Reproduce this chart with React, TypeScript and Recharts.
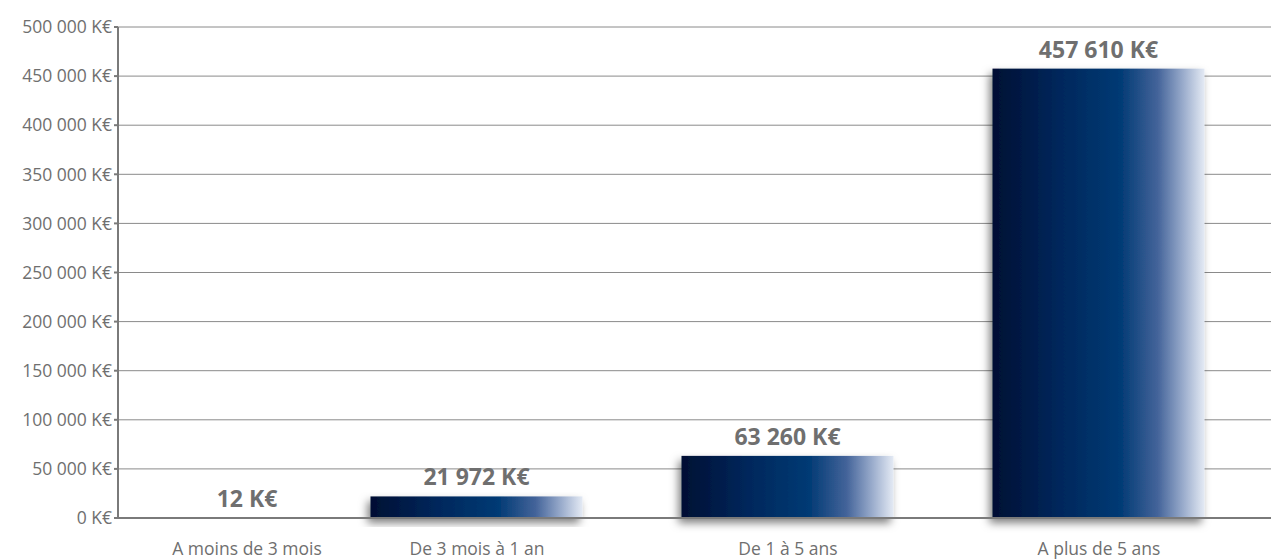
import React from 'react';
import { BarChart, Bar, XAxis, YAxis, CartesianGrid, LabelList } from 'recharts';

// Maturity buckets and outstanding amounts (K€)
const categories = ['A moins de 3 mois', 'De 3 mois à 1 an', 'De 1 à 5 ans', 'A plus de 5 ans'];
const amounts = [12, 21972, 63260, 457610];
const yTicks = [0, 50000, 100000, 150000, 200000, 250000, 300000, 350000, 400000, 450000, 500000];

const data = categories.map((name, i) => ({ idx: i, name, value: amounts[i] }));

const WIDTH = 1271;
const HEIGHT = 560;
const PLOT_LEFT = 118;
const FONT = '"Open Sans", "Noto Sans", sans-serif';
const TEXT_GREY = '#6f6f6f';
const AXIS_GREY = '#7a7a7a';

// keep centred labels clear of the value axis
const LABEL_MIN_X = PLOT_LEFT + 129;

const fmt = (v: number) => String(v).replace(/\B(?=(\d{3})+(?!\d))/g, ' ') + ' K€';

const CategoryTick = (props: any) => {
  const { x, y, payload } = props;
  const cx = Math.max(x, LABEL_MIN_X);
  return (
    <text x={cx} y={y + 37} textAnchor="middle" fill={TEXT_GREY} fontFamily={FONT} fontSize={17.5}>
      {categories[payload.value]}
    </text>
  );
};

const ValueLabel = (props: any) => {
  const { x, y, width, value } = props;
  const cx = Math.max(x + width / 2, LABEL_MIN_X);
  return (
    <text x={cx} y={y - 11} textAnchor="middle" fill={TEXT_GREY} fontFamily={FONT} fontSize={23} fontWeight={700}>
      {fmt(value)}
    </text>
  );
};

const ShadedBar = (props: any) => {
  const { x, y, width, height } = props;
  if (!(height > 0.5)) return null;
  return <rect x={x} y={y} width={width} height={height} fill="url(#barFill)" filter="url(#barShadow)" />;
};

export default function App() {
  return (
    <div style={{ position: 'absolute', left: 0, top: 0, background: '#fff' }}>
      <BarChart
        width={WIDTH}
        height={HEIGHT}
        data={data}
        margin={{ top: 27, right: 0, bottom: 0, left: 0 }}
      >
        <defs>
          <linearGradient id="barFill" x1="0" y1="0" x2="1" y2="0">
            <stop offset="0%" stopColor="#000f33" />
            <stop offset="30%" stopColor="#00265a" />
            <stop offset="60%" stopColor="#003a74" />
            <stop offset="78%" stopColor="#44649a" />
            <stop offset="90%" stopColor="#9aaccc" />
            <stop offset="100%" stopColor="#e4eaf4" />
          </linearGradient>
          <filter id="barShadow" x="-10%" y="-20%" width="125%" height="160%">
            <feDropShadow dx="-3" dy="5" stdDeviation="4" floodColor="#000" floodOpacity="0.5" />
          </filter>
        </defs>
        <CartesianGrid horizontal vertical={false} stroke="#8a8a8a" strokeWidth={1} />
        <XAxis
          dataKey="idx"
          type="number"
          domain={[-0.1543, 3.5531]}
          ticks={[0, 1, 2, 3]}
          allowDataOverflow
          height={42}
          stroke={AXIS_GREY}
          strokeWidth={2}
          tickLine={false}
          tickSize={0}
          tickMargin={0}
          tick={<CategoryTick />}
        />
        <YAxis
          width={PLOT_LEFT}
          domain={[0, 500000]}
          ticks={yTicks}
          interval={0}
          stroke={AXIS_GREY}
          strokeWidth={2}
          tickSize={4}
          tickMargin={2}
          tickFormatter={(v: number) => fmt(v)}
          tick={{ fill: TEXT_GREY, fontFamily: FONT, fontSize: 17.5 }}
        />
        <Bar dataKey="value" barSize={212} shape={<ShadedBar />} isAnimationActive={false}>
          <LabelList dataKey="value" content={<ValueLabel />} />
        </Bar>
      </BarChart>
    </div>
  );
}
